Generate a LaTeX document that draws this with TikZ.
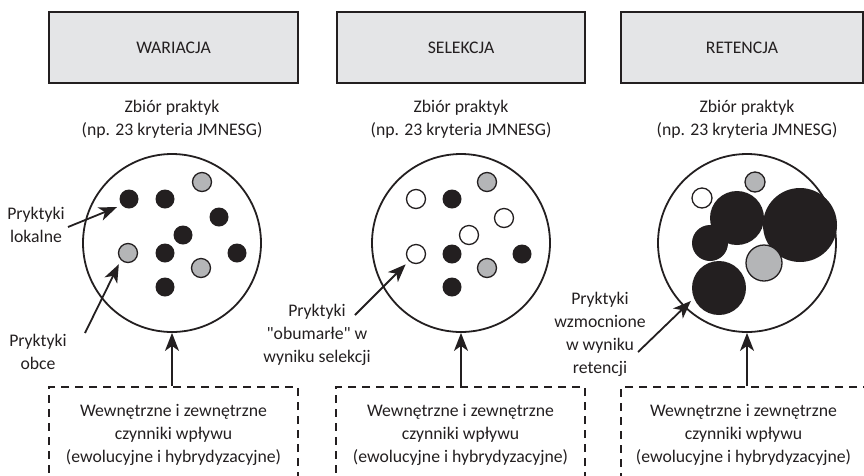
\documentclass[tikz,border=0pt]{standalone}
\usepackage{fontspec}
\setmainfont{Carlito}
\newfontfamily\plainquote{Carlito}[Ligatures=TeXOff]
\usetikzlibrary{arrows.meta}
\definecolor{ink}{HTML}{231F20}
\definecolor{boxgray}{HTML}{E4E5E7}
\definecolor{dotgray}{HTML}{B4B5B7}
\newcommand{\dq}{{\plainquote"}}
\begin{document}
\begin{tikzpicture}[x=1pt,y=-1pt,
  font=\fontsize{17.7}{23}\selectfont,
  stage/.style={draw=ink, line width=1.8pt, fill=boxgray, minimum height=71pt, inner sep=0pt, text=ink},
  pool/.style={circle, draw=ink, line width=1.8pt, fill=white, minimum size=178pt, inner sep=0pt},
  dotb/.style={circle, fill=ink, minimum size=19pt, inner sep=0pt},
  dotg/.style={circle, draw=ink, line width=1.3pt, fill=dotgray, minimum size=19pt, inner sep=0pt},
  dotw/.style={circle, draw=ink, line width=1.3pt, fill=white, minimum size=19pt, inner sep=0pt},
  factors/.style={draw=ink, line width=1.8pt, dash pattern=on 8pt off 6pt, minimum height=96pt, inner sep=0pt, align=center, text=ink},
  caption/.style={align=center, text=ink, inner sep=2pt},
  link/.style={draw=ink, line width=1.8pt, -{Stealth[length=18pt,width=14pt,inset=5pt]}}
]
\path[use as bounding box, clip] (0,0) rectangle (864,475);

% stage headers
\node[stage, minimum width=249pt] (s1) at (173.5,47.5) {WARIACJA};
\node[stage, minimum width=248pt] (s2) at (461,47.5) {SELEKCJA};
\node[stage, minimum width=242pt] (s3) at (742,47.5) {RETENCJA};

% set captions
\node[caption] (z1) at (172,119) {Zbiór praktyk\\(np. 23 kryteria JMNESG)};
\node[caption] (z2) at (461,119) {Zbiór praktyk\\(np. 23 kryteria JMNESG)};
\node[caption] (z3) at (747,119) {Zbiór praktyk\\(np. 23 kryteria JMNESG)};

% pools of practices
\node[pool] (c1) at (172,243) {};
\node[pool] (c2) at (461,243) {};
\node[pool] (c3) at (747,243) {};

% variation
\node[dotb] (a1) at (129,199) {};
\node[dotb] (a2) at (165,199) {};
\node[dotg] (a3) at (202,182) {};
\node[dotb] (a4) at (219,217) {};
\node[dotb] (a5) at (183,235) {};
\node[dotg] (a6) at (128,253) {};
\node[dotb] (a7) at (165,253) {};
\node[dotb] (a8) at (237,253) {};
\node[dotg] (a9) at (201,268) {};
\node[dotb] (a10) at (165,287) {};

% selection
\node[dotw] (b1) at (416,199) {};
\node[dotb] (b2) at (452,199) {};
\node[dotg] (b3) at (487,182) {};
\node[dotw] (b4) at (504,218) {};
\node[dotw] (b5) at (469,235) {};
\node[dotw] (b6) at (416,254) {};
\node[dotb] (b7) at (452,254) {};
\node[dotb] (b8) at (522,254) {};
\node[dotg] (b9) at (487,268) {};
\node[dotb] (b10) at (452,287) {};

% retention
\node[dotw, minimum size=20pt] (r1) at (702,198) {};
\node[dotg, minimum size=20pt] (r2) at (755,182) {};
\node[dotb, minimum size=54pt] (r3) at (737,218) {};
\node[dotb, minimum size=74pt] (r4) at (800,225) {};
\node[dotb, minimum size=36pt] (r5) at (710,243) {};
\node[dotg, minimum size=36pt] (r6) at (764,263) {};
\node[dotb, minimum size=54pt] (r7) at (719,288) {};

% pointer labels
\node[caption] (l1) at (36,225) {Pryktyki\\lokalne};
\node[caption] (l2) at (38,352) {Pryktyki\\obce};
\node[caption] (l3) at (317,335) {Pryktyki\\\dq obumarłe\dq{} w\\wyniku selekcji};
\node[caption] (l4) at (600,334) {Pryktyki\\wzmocnione\\w wyniku\\retencji};

\coordinate (t1) at (68,227);
\coordinate (t2) at (85,333);
\coordinate (t3) at (355,315);
\coordinate (t4) at (638,352);
\draw[link, shorten >=5pt] (t1) -- (a1.220);
\draw[link, shorten >=4.5pt] (t2) -- (a6.225);
\draw[link, shorten >=4.5pt] (t3) -- (b6.225);
\draw[link, shorten >=4pt] (t4) -- (r7.202);

% influencing factors
\node[factors, minimum width=249pt] (f1) at (173.5,435) {Wewnętrzne i zewnętrzne\\czynniki wpływu\\(ewolucyjne i hybrydyzacyjne)};
\node[factors, minimum width=249pt] (f2) at (460.5,435) {Wewnętrzne i zewnętrzne\\czynniki wpływu\\(ewolucyjne i hybrydyzacyjne)};
\node[factors, minimum width=245pt] (f3) at (743.5,435) {Wewnętrzne i zewnętrzne\\czynniki wpływu\\(ewolucyjne i hybrydyzacyjne)};

\draw[link] (c1.south |- f1.north) -- (c1.south);
\draw[link] (c2.south |- f2.north) -- (c2.south);
\draw[link] (c3.south |- f3.north) -- (c3.south);
\end{tikzpicture}
\end{document}
